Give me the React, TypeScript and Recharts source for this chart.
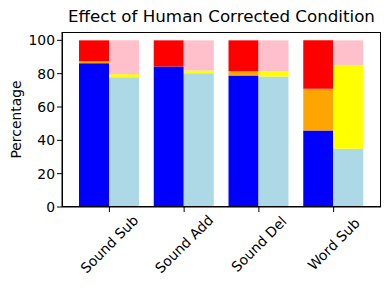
import React from "react";
import { BarChart, Bar, XAxis, YAxis } from "recharts";

const categories = ["Sound Sub", "Sound Add", "Sound Del", "Word Sub"];
// left bar: automatic condition
const autoCorrect = [86.3, 84.3, 78.9, 45.9];
const autoPartial = [1.2, 0, 2.6, 25.1];
const autoWrong = [12.5, 15.7, 18.5, 29.0];
// right bar: human corrected condition
const humanCorrect = [77.9, 80.3, 78.3, 35.0];
const humanPartial = [1.8, 1.6, 3.2, 50.1];
const humanWrong = [20.3, 18.1, 18.5, 14.9];
const yTicks = [0, 20, 40, 60, 80, 100];

const data = categories.map((name, i) => ({
  name,
  autoCorrect: autoCorrect[i],
  autoPartial: autoPartial[i],
  autoWrong: autoWrong[i],
  humanCorrect: humanCorrect[i],
  humanPartial: humanPartial[i],
  humanWrong: humanWrong[i],
}));

const font = "DejaVu Sans, sans-serif";

function XTick(props: any) {
  const { x, y, payload } = props;
  const cy = y + 30;
  return (
    <text
      x={x}
      y={cy}
      textAnchor="middle"
      dominantBaseline="central"
      transform={`rotate(-45, ${x}, ${cy})`}
      fontSize={13.9}
      fontFamily={font}
      fill="#000"
    >
      {payload.value}
    </text>
  );
}

export default function App() {
  return (
    <div style={{ position: "absolute", left: 0, top: 0, width: 390, height: 290, background: "#fff", fontFamily: font }}>
      <div style={{ position: "absolute", left: 62, width: 319, top: 6, textAlign: "center", fontSize: 16.7, color: "#000" }}>
        Effect of Human Corrected Condition
      </div>
      <BarChart
        width={390}
        height={290}
        data={data}
        margin={{ top: 32, right: 9, left: 0, bottom: 0 }}
        barGap={0}
        barCategoryGap={7}
      >
        <XAxis
          dataKey="name"
          height={83}
          padding={{ left: 10, right: 10 }}
          tickLine={{ stroke: "#000" }}
          axisLine={{ stroke: "#000" }}
          tickSize={5}
          tick={<XTick />}
          interval={0}
        />
        <YAxis
          width={62}
          domain={[0, 105]}
          ticks={yTicks}
          tickSize={5}
          tickLine={{ stroke: "#000" }}
          axisLine={{ stroke: "#000" }}
          tick={{ fill: "#000", fontSize: 13.9, fontFamily: font }}
          label={{ value: "Percentage", angle: -90, position: "insideLeft", offset: 16, style: { textAnchor: "middle", fill: "#000", fontSize: 13.9, fontFamily: font } }}
        />
        <Bar dataKey="autoCorrect" stackId="a" fill="#0000ff" barSize={30} isAnimationActive={false} />
        <Bar dataKey="autoPartial" stackId="a" fill="#ffa500" barSize={30} isAnimationActive={false} />
        <Bar dataKey="autoWrong" stackId="a" fill="#ff0000" barSize={30} isAnimationActive={false} />
        <Bar dataKey="humanCorrect" stackId="b" fill="#add8e6" barSize={30} isAnimationActive={false} />
        <Bar dataKey="humanPartial" stackId="b" fill="#ffff00" barSize={30} isAnimationActive={false} />
        <Bar dataKey="humanWrong" stackId="b" fill="#ffc0cb" barSize={30} isAnimationActive={false} />
      </BarChart>
      <div
        style={{
          position: "absolute",
          left: 61.5,
          top: 31.5,
          width: 319,
          height: 175,
          border: "1px solid #000",
          boxSizing: "border-box",
          pointerEvents: "none",
        }}
      />
    </div>
  );
}
